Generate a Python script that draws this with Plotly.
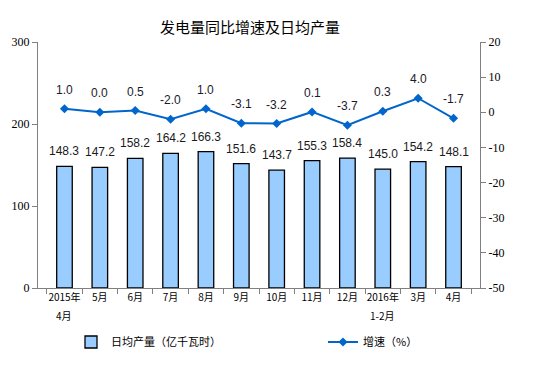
import plotly.graph_objects as go

categories = ["2015年<br>4月", "5月", "6月", "7月", "8月", "9月", "10月", "11月",
              "12月", "2016年<br>1-2月", "3月", "4月"]
output_vals = [148.3, 147.2, 158.2, 164.2, 166.3, 151.6, 143.7, 155.3, 158.4, 145.0, 154.2, 148.1]
growth_vals = [1.0, 0.0, 0.5, -2.0, 1.0, -3.1, -3.2, 0.1, -3.7, 0.3, 4.0, -1.7]
left_ticks = [0, 100, 200, 300]
right_ticks = [-50, -40, -30, -20, -10, 0, 10, 20]

bar_name = "日均产量（亿千瓦时）"
line_name = "增速（%）"
title_text = "发电量同比增速及日均产量"

num_font = "Liberation Sans, Arial, sans-serif"
cjk_font = "Noto Sans CJK SC, sans-serif"
tick_font = "Liberation Serif, Times New Roman, serif"

# page body has an 8px default margin; compensate so the plot lands where the reference has it
OFF = 8
W, H = 541, 367
PL, PR, PT, PB = 38, 480, 42, 288  # plot area in page pixels

fig = go.Figure()
fig.add_trace(go.Bar(
    x=categories, y=output_vals, name=bar_name, width=0.44,
    marker=dict(color="#99CCFF", line=dict(color="#000000", width=1.3)),
    yaxis="y", legend="legend",
))
fig.add_trace(go.Scatter(
    x=categories, y=growth_vals, name=line_name, mode="lines+markers",
    line=dict(color="#0066CC", width=2),
    marker=dict(symbol="diamond", size=7, color="#0066CC"),
    yaxis="y2", legend="legend2",
))

annotations = []
for c, v in zip(categories, output_vals):
    annotations.append(dict(x=c, y=v, xref="x", yref="y", text=f"{v:.1f}",
                            showarrow=False, yanchor="bottom", yshift=6,
                            font=dict(family=num_font, size=12, color="#1a1a1a")))
for c, v in zip(categories, growth_vals):
    annotations.append(dict(x=c, y=v, xref="x", yref="y2", text=f"{v:.1f}",
                            showarrow=False, yanchor="bottom", yshift=10,
                            font=dict(family=num_font, size=12, color="#1a1a2a")))
# second line of two-line category labels, spaced like the reference
first_lines = [c.split("<br>")[0] for c in categories]
for c in categories:
    parts = c.split("<br>")
    if len(parts) > 1:
        annotations.append(dict(x=c, y=0, xref="x", yref="paper", text=parts[1],
                                showarrow=False, yanchor="middle", yshift=-27,
                                font=dict(family=cjk_font, size=10, color="#000000")))

pw = PR - PL
leg_common = dict(orientation="h", xref="paper", yref="container", yanchor="middle",
                  y=1 - (342 - OFF) / H, xanchor="left",
                  font=dict(family=cjk_font, size=11, color="#000000"),
                  bgcolor="rgba(0,0,0,0)")

fig.update_layout(
    width=W, height=H,
    margin=dict(l=PL - OFF, r=W - (PR - OFF), t=PT - OFF, b=H - (PB - OFF), autoexpand=False),
    paper_bgcolor="white", plot_bgcolor="white",
    title=dict(text=title_text, x=(250 - OFF) / W, xanchor="center", y=1 - 20 / H,
               yanchor="middle", font=dict(family=cjk_font, size=15, color="#000000")),
    showlegend=True,
    legend=dict(x=(71 - PL) / pw, **leg_common),
    legend2=dict(x=(323 - PL) / pw, **leg_common),
    annotations=annotations,
    xaxis=dict(type="category", showline=True, linecolor="#808080", linewidth=1,
               ticks="outside", tickson="boundaries", ticklen=5, tickcolor="#808080",
               tickangle=0, automargin=False,
               tickmode="array", tickvals=categories, ticktext=first_lines,
               showgrid=False, tickfont=dict(family=cjk_font, size=10, color="#000000")),
    yaxis=dict(range=[0, 300], tickmode="array", tickvals=left_ticks,
               ticktext=[str(t) for t in left_ticks],
               showline=True, linecolor="#808080", linewidth=1,
               ticks="outside", ticklen=5, tickcolor="#808080", showgrid=False, zeroline=False,
               automargin=False,
               tickfont=dict(family=tick_font, size=12, color="#000000")),
    yaxis2=dict(range=[-50, 20], tickmode="array", tickvals=right_ticks,
                ticktext=[str(t) for t in right_ticks],
                overlaying="y", side="right", showline=True,
                linecolor="#808080", linewidth=1, ticks="outside", ticklen=5, tickcolor="#808080",
                showgrid=False, zeroline=False, automargin=False,
                tickfont=dict(family=tick_font, size=12, color="#000000")),
)

fig.write_html("out.html")
